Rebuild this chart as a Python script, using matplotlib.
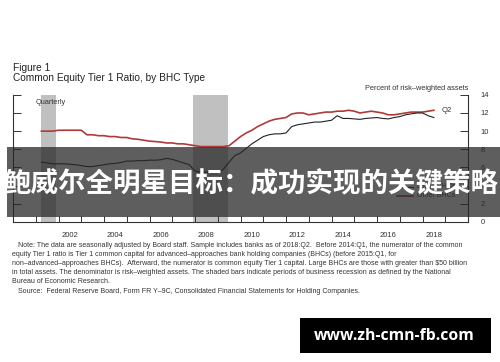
import matplotlib
matplotlib.use("Agg")
import matplotlib.pyplot as plt
from matplotlib.patches import Rectangle
import numpy as np

plt.rcParams["font.family"] = ["Liberation Sans", "DejaVu Sans"]

# quarterly, 2001:Q1 .. 2018:Q2
quarters = np.arange(2001.25, 2018.51, 0.25)

other_bhcs = [
    10.0, 10.0, 10.0, 10.1,
    10.1, 10.1, 10.1, 10.1,
    9.6, 9.6, 9.5, 9.5,
    9.4, 9.4, 9.3, 9.3,
    9.15, 9.1, 9.0, 8.9,
    8.85, 8.8, 8.7, 8.7,
    8.6, 8.6, 8.5, 8.4,
    8.3, 8.3, 8.3, 8.3,
    8.3, 8.4, 8.9, 9.4,
    9.8, 10.1, 10.5, 10.8,
    11.1, 11.3, 11.4, 11.5,
    11.9, 12.0, 12.0, 11.8,
    11.9, 12.0, 12.1, 12.1,
    12.2, 12.2, 12.3, 12.2,
    12.0, 12.1, 12.2, 12.1,
    12.0, 11.8, 11.8, 11.9,
    12.0, 12.1, 12.1, 12.1,
    12.2, 12.3,
]

large_bhcs = [
    6.6, 6.5, 6.4, 6.4,
    6.4, 6.35, 6.3, 6.2,
    6.1, 6.1, 6.2, 6.3,
    6.4, 6.45, 6.55, 6.7,
    6.7, 6.75, 6.75, 6.8,
    6.8, 6.85, 7.0, 6.9,
    6.7, 6.5, 6.3, 5.6,
    5.5, 5.5, 5.4, 5.4,
    5.8, 6.6, 7.3, 7.6,
    8.1, 8.6, 9.0, 9.4,
    9.6, 9.7, 9.7, 9.8,
    10.5, 10.7, 10.8, 10.9,
    11.0, 11.0, 11.1, 11.2,
    11.7, 11.4, 11.4, 11.35,
    11.3, 11.4, 11.45, 11.5,
    11.4, 11.35, 11.5, 11.6,
    11.8, 11.9, 12.0, 12.0,
    11.7, 11.5,
]

recessions = [(2001.25, 2001.87), (2007.92, 2009.45)]
year_labels = [2002, 2004, 2006, 2008, 2010, 2012, 2014, 2016, 2018]
y_ticks = [0, 2, 4, 6, 8, 10, 12, 14]

note_lines = [
    "   Note: The data are seasonally adjusted by Board staff. Sample includes banks as of 2018:Q2.  Before 2014:Q1, the numerator of the common",
    "equity Tier 1 ratio is Tier 1 common capital for advanced\u2013approaches bank holding companies (BHCs) (before 2015:Q1, for",
    "non\u2013advanced\u2013approaches BHCs).  Afterward, the numerator is common equity Tier 1 capital. Large BHCs are those with greater than $50 billion",
    "in total assets. The denominator is risk\u2013weighted assets. The shaded bars indicate periods of business recession as defined by the National",
    "Bureau of Economic Research.",
    "   Source:  Federal Reserve Board, Form FR Y\u20139C, Consolidated Financial Statements for Holding Companies.",
]

fig = plt.figure(figsize=(5, 3.62), dpi=100)
ax = fig.add_axes([0.026, 0.387, 0.91, 0.351])

for start, end in recessions:
    ax.axvspan(start, end, color="#c0c0c0", lw=0, zorder=0)

ax.plot(quarters, other_bhcs, color="#b03a3a", lw=1.2, zorder=3)
ax.plot(quarters, large_bhcs, color="#222222", lw=0.8, zorder=3)

ax.set_xlim(2000, 2020)
ax.set_ylim(0, 14)

ax.spines["top"].set_visible(False)
for s in ["left", "right", "bottom"]:
    ax.spines[s].set_linewidth(0.8)
    ax.spines[s].set_color("#333333")

ax.set_xticks(np.arange(2001, 2020))
ax.set_xticklabels([])
ax.set_xticks([y + 0.5 for y in year_labels], minor=True)
ax.set_xticklabels([str(y) for y in year_labels], minor=True, fontsize=5.5, color="#333333")
ax.tick_params(axis="x", which="major", direction="in", length=4, width=0.7, color="#333333")
ax.tick_params(axis="x", which="minor", length=0, pad=7)

ax.set_yticks(y_ticks)
ax.tick_params(axis="y", which="major", direction="in", length=6, width=0.7,
               left=True, right=True, labelleft=False, labelright=True,
               labelsize=5.5, labelcolor="#333333", pad=9, color="#333333")

ax.text(0.05, 0.93, "Quarterly", transform=ax.transAxes, fontsize=5.3, color="#333333")
ax.text(1.0, 1.04, "Percent of risk\u2013weighted assets", transform=ax.transAxes,
        fontsize=5.3, color="#333333", ha="right")
ax.text(2018.85, 12.3, "Q2", fontsize=5.5, color="#333333", va="center")

# legend entries
ax.plot([2016.9, 2017.6], [3.9, 3.9], color="#222222", lw=0.8)
ax.text(2017.75, 3.9, "Large BHCs", fontsize=5.0, va="center", color="#333333")
ax.plot([2016.9, 2017.6], [2.9, 2.9], color="#b03a3a", lw=1.2)
ax.text(2017.75, 2.9, "Other BHCs", fontsize=5.0, va="center", color="#333333")

fig.text(0.026, 0.805, "Figure 1", fontsize=7.3, color="#222222")
fig.text(0.026, 0.775, "Common Equity Tier 1 Ratio, by BHC Type", fontsize=7.3, color="#222222")

y0 = 0.323
for i, line in enumerate(note_lines):
    fig.text(0.024, y0 - i * 0.0255, line, fontsize=5.05, color="#333333", va="center")

# banner overlay
fig.patches.append(Rectangle((0.014, 0.4), 0.986, 0.195, transform=fig.transFigure,
                             facecolor="#282828", alpha=0.75, edgecolor="none", zorder=5))
fig.text(0.502, 0.492, "鲍威尔全明星目标：成功实现的关键策略", fontsize=19.8,
         family=["Noto Sans CJK SC", "DejaVu Sans"], weight="bold",
         color="white", ha="center", va="center", zorder=6)

# watermark
fig.patches.append(Rectangle((0.6, 0.025), 0.382, 0.097, transform=fig.transFigure,
                             facecolor="black", edgecolor="none", zorder=5))
fig.text(0.788, 0.073, "www.zh-cmn-fb.com", fontsize=11.3, weight="bold",
         family=["Open Sans", "DejaVu Sans"], color="white",
         ha="center", va="center", zorder=6)

fig.savefig("out.png", dpi=100)
